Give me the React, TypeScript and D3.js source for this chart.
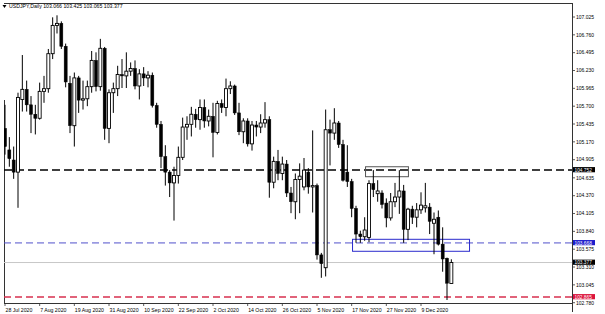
import React from "react";
import * as d3 from "d3";

const W = 605;
const H = 314;

// Trading days (categories) from 28 Jul 2020 to 18 Dec 2020
const days: Date[] = d3.timeDay
  .range(new Date(2020, 6, 28), new Date(2020, 11, 19))
  .filter((d) => d.getDay() !== 0 && d.getDay() !== 6);

const opens = [
  105.37, 105.05, 104.9, 104.72, 105.8, 105.95, 105.72, 105.58, 105.52, 105.92,
  105.96, 106.48, 106.9, 106.93, 106.59, 106.04, 105.41, 106.12, 105.79, 105.81,
  105.99, 106.38, 105.99, 106.56, 105.37, 105.9, 105.96, 106.17, 106.15, 106.22,
  106.26, 106.0, 106.18, 106.12, 106.16, 105.71, 105.43, 104.95, 104.72, 104.56,
  104.67, 104.94, 105.39, 105.43, 105.58, 105.5, 105.68, 105.48, 105.55, 105.31,
  105.74, 105.68, 105.96, 106.0, 105.6, 105.32, 105.48, 105.14, 105.42, 105.39,
  105.45, 105.5, 104.57, 104.88, 104.7, 104.84, 104.41, 104.28, 104.61, 104.5,
  104.72, 104.5, 104.52, 103.49, 103.3, 105.35, 105.3, 105.45, 105.13, 104.72,
  104.58, 104.18, 103.8, 103.76, 103.75, 104.55, 104.4, 104.41, 104.26, 104.04,
  104.28, 104.35, 104.44, 103.87, 104.17, 104.05, 104.16, 104.19, 104.2, 103.96,
  104.05, 103.65, 103.44, 103.066,
];
const highs = [
  105.72, 105.24, 105.1, 105.9, 106.46, 106.08, 105.85, 105.72, 106.05, 106.15,
  106.55, 107.02, 107.05, 106.96, 106.63, 106.15, 106.2, 106.15, 106.08, 106.08,
  106.52, 106.5, 106.7, 106.58, 105.95, 106.05, 106.3, 106.4, 106.5, 106.35,
  106.38, 106.25, 106.28, 106.22, 106.2, 105.75, 105.48, 105.12, 104.75, 104.8,
  105.1, 105.53, 105.55, 105.69, 105.66, 105.8, 105.8, 105.65, 105.75, 105.78,
  105.8, 106.11, 106.07, 106.02, 105.75, 105.52, 105.52, 105.48, 105.48, 105.58,
  105.76, 105.55, 104.95, 105.05, 104.95, 104.9, 104.5, 104.7, 104.85, 104.93,
  104.78, 105.34, 104.55, 103.52, 105.65, 105.5, 105.67, 105.48, 105.2, 105.12,
  104.62, 104.22, 103.85, 104.05, 104.6, 104.75, 104.6, 104.45, 104.33, 104.41,
  104.56, 104.75, 104.53, 104.19, 104.22, 104.26, 104.42, 104.56, 104.26, 104.12,
  104.15, 103.9, 103.45, 103.425,
];
const lows = [
  104.98, 104.8, 104.62, 104.19, 105.62, 105.62, 105.3, 105.28, 105.5, 105.75,
  105.9, 106.4, 106.78, 106.55, 105.98, 105.3, 105.1, 105.6, 105.65, 105.7,
  105.9, 105.92, 105.93, 105.2, 105.15, 105.6, 105.85, 105.97, 105.97, 106.15,
  105.95, 105.8, 106.0, 105.98, 105.68, 105.38, 104.78, 104.52, 104.35, 104.0,
  104.55, 104.9, 105.2, 105.25, 105.38, 105.35, 105.38, 105.4, 104.94, 105.28,
  105.6, 105.55, 105.88, 105.57, 105.27, 105.15, 105.1, 105.04, 105.25, 105.3,
  105.38, 104.34, 104.48, 104.6, 104.6, 104.35, 104.11, 104.02, 104.11, 104.45,
  104.4, 104.12, 103.42, 103.15, 103.17, 104.82, 105.2, 105.08, 104.58, 104.5,
  104.05, 103.67, 103.67, 103.7, 103.68, 104.35, 104.28, 104.18, 103.9, 104.0,
  104.2, 104.1, 103.67, 103.71, 103.95, 103.9, 104.1, 104.12, 103.8, 103.5,
  103.63, 103.24, 102.82, 103.065,
];
const closes = [
  105.1, 104.92, 104.72, 105.83, 105.95, 105.72, 105.58, 105.52, 105.92, 105.96,
  106.48, 106.9, 106.93, 106.59, 106.06, 105.41, 106.12, 105.79, 105.81, 105.99,
  106.38, 105.99, 106.56, 105.37, 105.9, 105.96, 106.17, 106.15, 106.22, 106.26,
  106.0, 106.18, 106.12, 106.16, 105.71, 105.43, 104.95, 104.72, 104.56, 104.67,
  104.94, 105.39, 105.43, 105.58, 105.5, 105.68, 105.48, 105.55, 105.31, 105.74,
  105.68, 105.96, 106.0, 105.6, 105.32, 105.48, 105.14, 105.42, 105.39, 105.45,
  105.5, 104.57, 104.88, 104.7, 104.84, 104.41, 104.28, 104.61, 104.66, 104.75,
  104.5, 104.52, 103.49, 103.36, 105.35, 105.3, 105.45, 105.13, 104.6, 104.58,
  104.18, 103.8, 103.76, 103.86, 104.55, 104.46, 104.44, 104.24, 104.04, 104.28,
  104.35, 104.44, 103.87, 104.17, 104.05, 104.16, 104.23, 104.22, 103.99, 104.02,
  103.65, 103.43, 103.07, 103.377,
];

const priceTicks = [
  "107.025", "106.760", "106.495", "106.230", "105.965", "105.700", "105.435",
  "105.170", "104.905", "104.635", "104.370", "104.105", "103.840", "103.575",
  "103.310", "103.045", "102.780",
];

const dateTickIdx = [0, 8, 16, 24, 32, 40, 48, 56, 64, 72, 80, 88, 96];
const dateTickLabels = [
  "28 Jul 2020", "7 Aug 2020", "19 Aug 2020", "31 Aug 2020", "10 Sep 2020",
  "22 Sep 2020", "2 Oct 2020", "14 Oct 2020", "26 Oct 2020", "5 Nov 2020",
  "17 Nov 2020", "27 Nov 2020", "9 Dec 2020",
];

// horizontal levels
const levels = [
  { price: 104.752, label: "104.752", color: "#000000", bg: "#000000", dash: "8 4", width: 1.4 },
  { price: 103.668, label: "103.668", color: "#5050cc", bg: "#1c1ccc", dash: "7 4", width: 1 },
  { price: 102.865, label: "102.865", color: "#d8304f", bg: "#dc143c", dash: "7 4", width: 1.3 },
];
const lastPrice = 103.377;

// rectangles: [startIdx, endIdx, priceTop, priceBottom]
const rects = [
  { i0: 83.2, i1: 93.1, p0: 104.8, p1: 104.652, color: "#555555" },
  { i0: 80.2, i1: 107.2, p0: 103.722, p1: 103.544, color: "#2a2acc" },
];

const header = "USDJPY,Daily  103.066 103.425 103.065 103.377";

const L = 4, R = 572, T = 3, B = 303;
const FONT = "'Liberation Sans', Arial, sans-serif";

export default function App() {
  const x = d3.scaleLinear().domain([0, 96]).range([5, 421]);
  const y = d3.scaleLinear().domain([102.78, 107.025]).range([302.7, 17]);
  const bw = 3;

  return (
    <svg width={W} height={H} style={{ position: "absolute", left: 0, top: 0, background: "#fff" }}>
      <rect x={0} y={0} width={W} height={H} fill="#fff" />
      <defs>
        <clipPath id="plot">
          <rect x={L} y={T} width={R - L} height={B - T} />
        </clipPath>
      </defs>
      {/* frame */}
      <line x1={L} x2={R} y1={T + 0.5} y2={T + 0.5} stroke="#333" strokeWidth={1} />
      <line x1={R + 0.5} x2={R + 0.5} y1={T} y2={B + 9} stroke="#333" strokeWidth={1} />
      <line x1={L} x2={R} y1={B + 0.5} y2={B + 0.5} stroke="#333" strokeWidth={1} />
      <line x1={L + 0.5} x2={L + 0.5} y1={100} y2={B} stroke="#333" strokeWidth={1} />

      <g clipPath="url(#plot)">
        {/* current price line */}
        <line x1={L} x2={R} y1={y(lastPrice)} y2={y(lastPrice)} stroke="#c8c8c8" strokeWidth={1} />
        {/* levels */}
        {levels.map((lv, k) => (
          <line key={k} x1={L} x2={R} y1={y(lv.price)} y2={y(lv.price)} stroke={lv.color}
            strokeWidth={lv.width} strokeDasharray={lv.dash} />
        ))}
        {/* rectangles */}
        {rects.map((r, k) => (
          <rect key={k} x={x(r.i0)} y={y(r.p0)} width={x(r.i1) - x(r.i0)} height={y(r.p1) - y(r.p0)}
            fill="none" stroke={r.color} strokeWidth={1} />
        ))}
        {/* candles */}
        {days.map((d, i) => {
          const o = opens[i], h = highs[i], l = lows[i], c = closes[i];
          const cx = x(i);
          const up = c >= o;
          const top = y(Math.max(o, c));
          const bot = y(Math.min(o, c));
          const bh = Math.max(1, bot - top);
          return (
            <g key={i}>
              <line x1={cx} x2={cx} y1={y(h)} y2={y(l)} stroke="#000" strokeWidth={1} />
              <rect x={cx - bw / 2} y={top} width={bw} height={bh}
                fill={up ? "#fff" : "#000"} stroke="#000" strokeWidth={up ? 0.9 : 0.5} />
            </g>
          );
        })}
      </g>

      {/* header */}
      <path d="M2.5,5 L6.5,5 L4.5,8 Z" fill="#000" />
      <text x={9} y={8.2} fontFamily={FONT} fontSize={5.2} fill="#000">{header}</text>

      {/* price axis */}
      {priceTicks.map((t) => {
        const yy = y(+t);
        return (
          <g key={t}>
            <line x1={R} x2={R + 3} y1={yy} y2={yy} stroke="#333" strokeWidth={0.8} />
            <text x={R + 4} y={yy + 1.8} fontFamily={FONT} fontSize={5} fill="#000">{t}</text>
          </g>
        );
      })}
      {[...levels.map((lv) => ({ price: lv.price, label: lv.label, bg: lv.bg })),
        { price: lastPrice, label: "103.377", bg: "#000000" }].map((lv, k) => {
        const yy = y(lv.price);
        return (
          <g key={"lb" + k}>
            <rect x={R + 1} y={yy - 2.9} width={22} height={5.2} fill={lv.bg} />
            <text x={R + 2.5} y={yy + 1.6} fontFamily={FONT} fontSize={4.8} fill="#fff">{lv.label}</text>
          </g>
        );
      })}

      {/* date axis */}
      {dateTickIdx.map((i, k) => (
        <g key={"d" + k}>
          <line x1={x(i)} x2={x(i)} y1={B} y2={B + 3} stroke="#333" strokeWidth={0.8} />
          <text x={x(i) + 0.5} y={B + 8.8} fontFamily={FONT} fontSize={5.2} fill="#000">
            {dateTickLabels[k]}
          </text>
        </g>
      ))}
    </svg>
  );
}
